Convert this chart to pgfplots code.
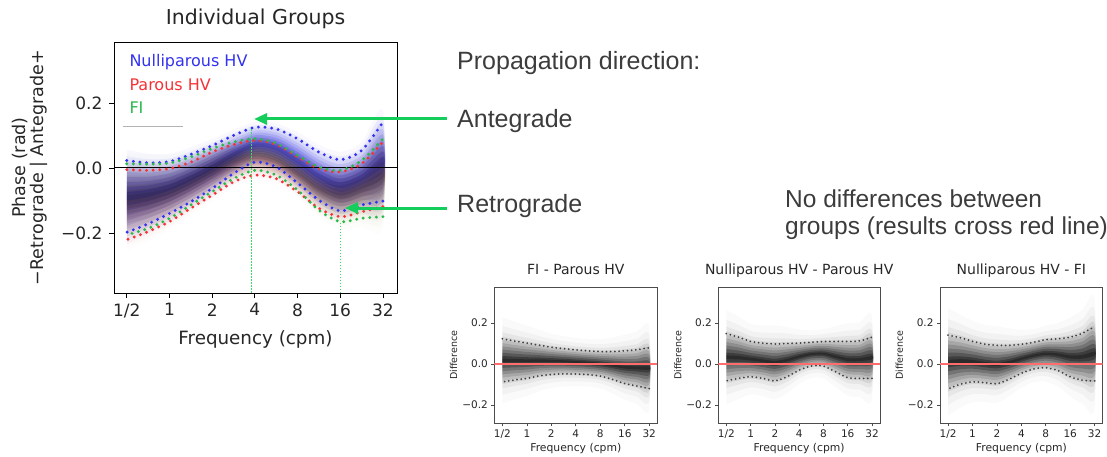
\documentclass[border=0pt]{standalone}
\usepackage{pgfplots}
\pgfplotsset{compat=1.18}
\usepackage{pgfplotstable}
\usetikzlibrary{arrows.meta}
\usepackage{fontspec}
\setmainfont{DejaVu Sans}
\newfontfamily\arial{Liberation Sans}

\definecolor{cblue}{RGB}{50,50,240}
\definecolor{cred}{RGB}{245,50,55}
\definecolor{cgreen}{RGB}{40,185,75}
\definecolor{fblue}{RGB}{25,25,225}
\definecolor{fred}{RGB}{215,40,90}
\definecolor{fgreen}{RGB}{110,150,20}
\definecolor{arrowgreen}{RGB}{20,205,90}
\definecolor{vgreen}{RGB}{60,220,100}
\definecolor{zred}{RGB}{255,110,110}
\definecolor{annot}{RGB}{60,60,60}

% Each table runs along the band: s=1 rows go left to right (upper bound row),
% s=-1 rows come back right to left; lo/hi = dotted bounds, x = log2(frequency).
\pgfplotstableread{
x lo hi s
-1 -0.198 0.023 1
-0.5 -0.172 0.016 1
0 -0.140 0.020 1
0.5 -0.104 0.042 1
1 -0.063 0.069 1
1.5 -0.017 0.100 1
2 0.018 0.125 1
2.5 0.003 0.120 1
3 -0.046 0.090 1
3.5 -0.099 0.049 1
4 -0.132 0.026 1
4.5 -0.114 0.054 1
5 -0.102 0.141 1
5 -0.102 0.141 -1
4.5 -0.114 0.054 -1
4 -0.132 0.026 -1
3.5 -0.099 0.049 -1
3 -0.046 0.090 -1
2.5 0.003 0.120 -1
2 0.018 0.125 -1
1.5 -0.017 0.100 -1
1 -0.063 0.069 -1
0.5 -0.104 0.042 -1
0 -0.140 0.020 -1
-0.5 -0.172 0.016 -1
-1 -0.198 0.023 -1
}\tblBlue
\pgfplotstableread{
x lo hi s
-1 -0.221 -0.005 1
-0.5 -0.196 -0.007 1
0 -0.165 -0.002 1
0.5 -0.124 0.018 1
1 -0.084 0.049 1
1.5 -0.043 0.072 1
2 -0.022 0.085 1
2.5 -0.033 0.072 1
3 -0.073 0.034 1
3.5 -0.124 -0.002 1
4 -0.150 -0.012 1
4.5 -0.135 0.013 1
5 -0.119 0.080 1
5 -0.119 0.080 -1
4.5 -0.135 0.013 -1
4 -0.150 -0.012 -1
3.5 -0.124 -0.002 -1
3 -0.073 0.034 -1
2.5 -0.033 0.072 -1
2 -0.022 0.085 -1
1.5 -0.043 0.072 -1
1 -0.084 0.049 -1
0.5 -0.124 0.018 -1
0 -0.165 -0.002 -1
-0.5 -0.196 -0.007 -1
-1 -0.221 -0.005 -1
}\tblRed
\pgfplotstableread{
x lo hi s
-1 -0.206 0.013 1
-0.5 -0.186 0.012 1
0 -0.155 0.015 1
0.5 -0.114 0.034 1
1 -0.073 0.060 1
1.5 -0.033 0.080 1
2 -0.007 0.090 1
2.5 -0.022 0.076 1
3 -0.068 0.039 1
3.5 -0.130 0.003 1
4 -0.165 -0.007 1
4.5 -0.155 0.023 1
5 -0.150 0.090 1
5 -0.150 0.090 -1
4.5 -0.155 0.023 -1
4 -0.165 -0.007 -1
3.5 -0.130 0.003 -1
3 -0.068 0.039 -1
2.5 -0.022 0.076 -1
2 -0.007 0.090 -1
1.5 -0.033 0.080 -1
1 -0.073 0.060 -1
0.5 -0.114 0.034 -1
0 -0.155 0.015 -1
-0.5 -0.186 0.012 -1
-1 -0.206 0.013 -1
}\tblGreen
\pgfplotstableread{
x lo hi s
-1 -0.087 0.123 1
-0.5 -0.078 0.112 1
0 -0.070 0.102 1
0.5 -0.058 0.092 1
1 -0.051 0.082 1
1.5 -0.048 0.075 1
2 -0.049 0.069 1
2.5 -0.052 0.064 1
3 -0.059 0.061 1
3.5 -0.075 0.061 1
4 -0.095 0.064 1
4.5 -0.107 0.070 1
5 -0.120 0.080 1
5 -0.120 0.080 -1
4.5 -0.107 0.070 -1
4 -0.095 0.064 -1
3.5 -0.075 0.061 -1
3 -0.059 0.061 -1
2.5 -0.052 0.064 -1
2 -0.049 0.069 -1
1.5 -0.048 0.075 -1
1 -0.051 0.082 -1
0.5 -0.058 0.092 -1
0 -0.070 0.102 -1
-0.5 -0.078 0.112 -1
-1 -0.087 0.123 -1
}\tblDa
\pgfplotstableread{
x lo hi s
-1 -0.082 0.148 1
-0.5 -0.070 0.131 1
0 -0.062 0.110 1
0.5 -0.070 0.102 1
1 -0.082 0.098 1
1.5 -0.062 0.100 1
2 -0.030 0.102 1
2.5 -0.010 0.106 1
3 -0.010 0.110 1
3.5 -0.038 0.110 1
4 -0.066 0.110 1
4.5 -0.070 0.113 1
5 -0.070 0.131 1
5 -0.070 0.131 -1
4.5 -0.070 0.113 -1
4 -0.066 0.110 -1
3.5 -0.038 0.110 -1
3 -0.010 0.110 -1
2.5 -0.010 0.106 -1
2 -0.030 0.102 -1
1.5 -0.062 0.100 -1
1 -0.082 0.098 -1
0.5 -0.070 0.102 -1
0 -0.062 0.110 -1
-0.5 -0.070 0.131 -1
-1 -0.082 0.148 -1
}\tblDb
\pgfplotstableread{
x lo hi s
-1 -0.121 0.141 1
-0.5 -0.099 0.128 1
0 -0.087 0.111 1
0.5 -0.091 0.097 1
1 -0.096 0.091 1
1.5 -0.074 0.091 1
2 -0.045 0.096 1
2.5 -0.024 0.106 1
3 -0.018 0.119 1
3.5 -0.032 0.123 1
4 -0.062 0.131 1
4.5 -0.079 0.150 1
5 -0.082 0.183 1
5 -0.082 0.183 -1
4.5 -0.079 0.150 -1
4 -0.062 0.131 -1
3.5 -0.032 0.123 -1
3 -0.018 0.119 -1
2.5 -0.024 0.106 -1
2 -0.045 0.096 -1
1.5 -0.074 0.091 -1
1 -0.096 0.091 -1
0.5 -0.091 0.097 -1
0 -0.087 0.111 -1
-0.5 -0.099 0.128 -1
-1 -0.121 0.141 -1
}\tblDc

% one shading layer of a band: #1 table, #2 width factor, #3 style, #4 opacity
\newcommand{\layer}[4]{%
  \addplot[#3, fill opacity=#4, draw=none, forget plot, smooth, tension=0.5]
    table[x=x, y expr={0.5*((\thisrow{lo})+(\thisrow{hi}))+(\thisrow{s})*#2*0.5*((\thisrow{hi})-(\thisrow{lo}))}] {#1};
}
% strong shading (Nulliparous HV)
\newcommand{\mainshade}[2]{%
  \layer{#1}{1.3}{fill=#2, blend mode=multiply}{0.03}
  \layer{#1}{1.12}{fill=#2, blend mode=multiply}{0.06}
  \layer{#1}{0.97}{fill=#2, blend mode=multiply}{0.09}
  \layer{#1}{0.82}{fill=#2, blend mode=multiply}{0.11}
  \layer{#1}{0.68}{fill=#2, blend mode=multiply}{0.13}
  \layer{#1}{0.54}{fill=#2, blend mode=multiply}{0.15}
  \layer{#1}{0.4}{fill=#2, blend mode=multiply}{0.17}
  \layer{#1}{0.26}{fill=#2, blend mode=multiply}{0.19}
  \layer{#1}{0.12}{fill=#2, blend mode=multiply}{0.20}
}
% lighter shading (Parous HV, FI)
\newcommand{\mainshadeW}[2]{%
  \layer{#1}{1.3}{fill=#2, blend mode=multiply}{0.014}
  \layer{#1}{1.12}{fill=#2, blend mode=multiply}{0.027}
  \layer{#1}{0.97}{fill=#2, blend mode=multiply}{0.04}
  \layer{#1}{0.82}{fill=#2, blend mode=multiply}{0.05}
  \layer{#1}{0.68}{fill=#2, blend mode=multiply}{0.058}
  \layer{#1}{0.54}{fill=#2, blend mode=multiply}{0.067}
  \layer{#1}{0.4}{fill=#2, blend mode=multiply}{0.076}
  \layer{#1}{0.26}{fill=#2, blend mode=multiply}{0.085}
  \layer{#1}{0.12}{fill=#2, blend mode=multiply}{0.09}
}
\newcommand{\diffshade}[1]{%
  \layer{#1}{2.0}{fill=black}{0.02}
  \layer{#1}{1.6}{fill=black}{0.03}
  \layer{#1}{1.3}{fill=black}{0.05}
  \layer{#1}{1.1}{fill=black}{0.08}
  \layer{#1}{0.95}{fill=black}{0.10}
  \layer{#1}{0.8}{fill=black}{0.12}
  \layer{#1}{0.65}{fill=black}{0.15}
  \layer{#1}{0.5}{fill=black}{0.18}
  \layer{#1}{0.35}{fill=black}{0.24}
  \layer{#1}{0.2}{fill=black}{0.30}
  \layer{#1}{0.08}{fill=black}{0.30}
}
\newcommand{\bounds}[2]{%
  \addplot[#2, smooth] table[x=x, y=hi, restrict expr to domain={\thisrow{s}}{0:2}] {#1};
  \addplot[#2, smooth] table[x=x, y=lo, restrict expr to domain={\thisrow{s}}{-2:0}] {#1};
}

\tikzset{
  dotsmain/.style={line width=3.2pt, dash pattern=on 0pt off 6.6pt, line cap=round},
  dotssmall/.style={black!75, line width=2pt, dash pattern=on 0pt off 4.2pt, line cap=round},
}

\pgfplotsset{
  smallax/.style={
    scale only axis, height=136pt,
    xmin=-1.33, xmax=5.33, ymin=-0.289, ymax=0.374,
    xtick={-1,0,1,2,3,4,5}, xticklabels={1/2,1,2,4,8,16,32},
    ytick={-0.2,0,0.2}, yticklabels={−0.2,0.0,0.2},
    tick align=outside, xtick pos=bottom, ytick pos=left,
    major tick length=3pt,
    tick style={black!70, line width=0.7pt},
    axis line style={black!70, line width=0.8pt},
    ticklabel style={font=\fontsize{10.5}{11}\selectfont, text=black!85},
    title style={at={(axis description cs:0.5,1.0485)}, anchor=base, font=\fontsize{14}{15}\selectfont, text=black!85},
    xlabel={Frequency (cpm)},
    xlabel style={at={(axis description cs:0.5,-0.209)}, anchor=base, font=\fontsize{10.8}{11}\selectfont, text=black!85},
    ylabel={Difference},
    ylabel style={at={(axis description cs:-0.25,0.5)}, anchor=center, font=\fontsize{9.5}{10}\selectfont, text=black!85},
  }
}

\begin{document}
\begin{tikzpicture}[x=1pt,y=1pt]
\useasboundingbox (0,0) rectangle (1107,456);

% ---------------- main panel ----------------
\begin{axis}[
  at={(114pt,163pt)}, anchor=south west, scale only axis,
  width=283pt, height=251pt,
  xmin=-1.3, xmax=5.33, ymin=-0.385, ymax=0.388,
  xtick={-1,0,1,2,3,4,5}, xticklabels={1/2,1,2,4,8,16,32},
  ytick={-0.2,0,0.2}, yticklabels={−0.2,0.0,0.2},
  tick align=outside, xtick pos=bottom, ytick pos=left,
  major tick length=5pt,
  tick style={black, line width=0.8pt},
  axis line style={black, line width=0.9pt},
  ticklabel style={font=\fontsize{17}{18}\selectfont, text=black!85},
  xticklabel style={yshift=-2pt},
  yticklabel style={xshift=-3pt},
  title={Individual Groups},
  title style={at={(axis description cs:0.5,1.0478)}, anchor=base, font=\fontsize{20.5}{21}\selectfont, text=black!85},
  xlabel={Frequency (cpm)},
  xlabel style={at={(axis description cs:0.5,-0.207)}, anchor=base, font=\fontsize{18.3}{19}\selectfont, text=black!85},
  ylabel={Phase (rad)\\−Retrograde | Antegrade+},
  ylabel style={at={(axis description cs:-0.298,0.5)}, anchor=center, align=center, font=\fontsize{17.5}{18}\selectfont, text=black!85},
]
\mainshadeW{\tblGreen}{fgreen}
\mainshadeW{\tblRed}{fred}
\mainshade{\tblBlue}{fblue}

\addplot[black, line width=1pt, forget plot] coordinates {(-1.3,0) (5.33,0)};

\bounds{\tblBlue}{cblue, dotsmain}
\bounds{\tblRed}{cred, dotsmain}
\bounds{\tblGreen}{cgreen, dotsmain}

% markers of the peak (antegrade) and trough (retrograde)
\addplot[vgreen, line width=1.2pt, dash pattern=on 1.5pt off 1.5pt] coordinates {(1.93,0.12) (1.93,-0.385)};
\addplot[vgreen, line width=1.2pt, dash pattern=on 1.5pt off 1.5pt] coordinates {(4.0,-0.168) (4.0,-0.385)};
\end{axis}

% legend text
\node[anchor=base west, inner sep=0, text=cblue, font=\fontsize{16}{17}\selectfont] at (129.3,389.3) {Nulliparous HV};
\node[anchor=base west, inner sep=0, text=cred, font=\fontsize{16}{17}\selectfont] at (129.3,365.3) {Parous HV};
\node[anchor=base west, inner sep=0, text=cgreen, font=\fontsize{16}{17}\selectfont] at (129.3,342.7) {FI};
\draw[black!30, line width=0.8pt] (123,330) -- (183,330);

% arrows and annotation
\draw[arrowgreen, line width=3pt, -{Triangle[length=13pt,width=11pt]}] (447,337) -- (254,337);
\draw[arrowgreen, line width=3pt, -{Triangle[length=13pt,width=11pt]}] (447,248) -- (345,248);
\node[anchor=base west, inner sep=0, text=annot, font=\arial\fontsize{25}{26}\selectfont] at (457,386.7) {Propagation direction:};
\node[anchor=base west, inner sep=0, text=annot, font=\arial\fontsize{25}{26}\selectfont] at (457,328.7) {Antegrade};
\node[anchor=base west, inner sep=0, text=annot, font=\arial\fontsize{25}{26}\selectfont] at (457,243.3) {Retrograde};
\node[anchor=base west, inner sep=0, text=annot, font=\arial\fontsize{24.5}{26}\selectfont] at (785,248.7) {No differences between};
\node[anchor=base west, inner sep=0, text=annot, font=\arial\fontsize{24.5}{26}\selectfont] at (785,221.7) {groups (results cross red line)};

% ---------------- difference panels ----------------
\begin{axis}[smallax, at={(494.3pt,32.7pt)}, anchor=south west, width=163pt, title={FI - Parous HV}]
\diffshade{\tblDa}
\addplot[zred, line width=1.6pt, forget plot] coordinates {(-1.33,0) (5.33,0)};
\bounds{\tblDa}{dotssmall}
\end{axis}

\begin{axis}[smallax, at={(718.3pt,32.7pt)}, anchor=south west, width=161.7pt, title={Nulliparous HV - Parous HV}]
\diffshade{\tblDb}
\addplot[zred, line width=1.6pt, forget plot] coordinates {(-1.33,0) (5.33,0)};
\bounds{\tblDb}{dotssmall}
\end{axis}

\begin{axis}[smallax, at={(940pt,32.7pt)}, anchor=south west, width=162.7pt, title={Nulliparous HV - FI}]
\diffshade{\tblDc}
\addplot[zred, line width=1.6pt, forget plot] coordinates {(-1.33,0) (5.33,0)};
\bounds{\tblDc}{dotssmall}
\end{axis}
\end{tikzpicture}
\end{document}
